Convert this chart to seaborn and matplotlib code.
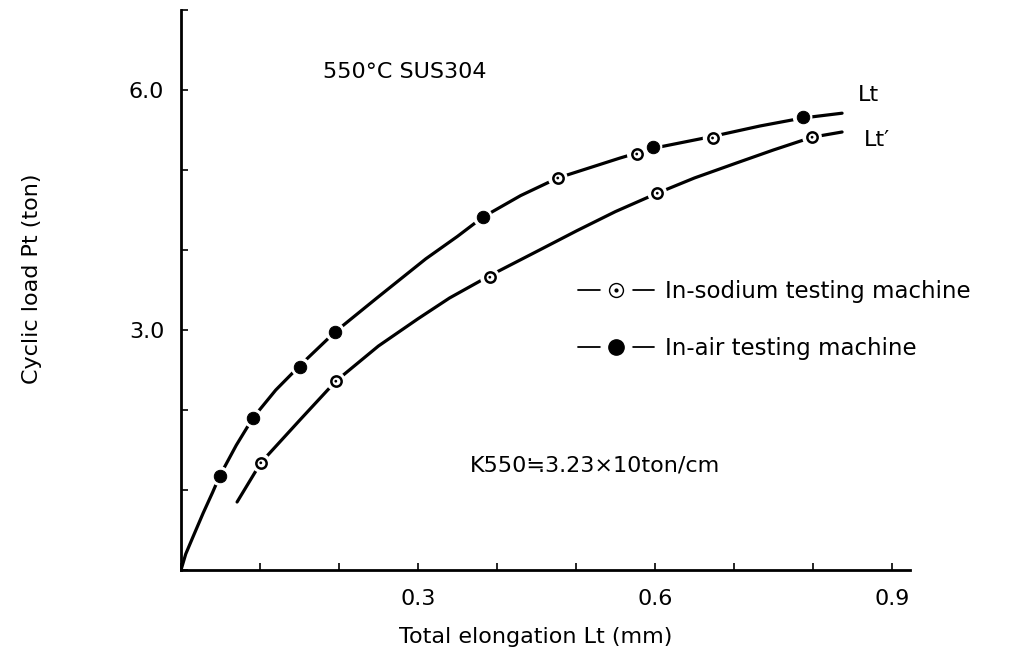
import matplotlib
matplotlib.use("Agg")
import matplotlib.pyplot as plt
import seaborn as sns
import pandas as pd
from matplotlib.lines import Line2D
from matplotlib.legend_handler import HandlerTuple
from matplotlib.ticker import FixedLocator, MultipleLocator

# ---- data ----
# upper curve Lt (traced)
lt_x = [0, 0.006, 0.015, 0.028, 0.040, 0.049, 0.070, 0.091, 0.120, 0.151, 0.195,
        0.248, 0.310, 0.350, 0.382, 0.430, 0.477, 0.556, 0.597, 0.673, 0.733, 0.787, 0.837]
lt_y = [0, 0.20, 0.41, 0.71, 0.97, 1.175, 1.56, 1.90, 2.25, 2.56, 2.975,
        3.40, 3.89, 4.17, 4.41, 4.68, 4.90, 5.15, 5.27, 5.42, 5.55, 5.65, 5.71]
# lower curve Lt' (traced)
ltp_x = [0.071, 0.101, 0.151, 0.196, 0.250, 0.300, 0.340, 0.391, 0.454, 0.501, 0.550,
         0.603, 0.650, 0.704, 0.750, 0.799, 0.837]
ltp_y = [0.85, 1.34, 1.88, 2.36, 2.80, 3.14, 3.40, 3.68, 4.00, 4.24, 4.48,
         4.71, 4.90, 5.09, 5.25, 5.41, 5.475]
# In-air testing machine (filled)
air_x = [0.049, 0.091, 0.151, 0.195, 0.382, 0.597, 0.787]
air_y = [1.175, 1.90, 2.54, 2.975, 4.41, 5.29, 5.66]
# In-sodium testing machine (open, dotted)
sod_x = [0.101, 0.196, 0.391, 0.477, 0.577, 0.603, 0.673, 0.799]
sod_y = [1.34, 2.36, 3.66, 4.90, 5.20, 4.71, 5.40, 5.41]

x_ticks = [0.3, 0.6, 0.9]
x_tick_labels = ["0.3", "0.6", "0.9"]
y_ticks = [3.0, 6.0]
y_tick_labels = ["3.0", "6.0"]

sns.set_theme(style="ticks")
plt.rcParams['font.family'] = ['DejaVu Sans', 'Noto Sans CJK JP']
plt.rcParams['text.color'] = 'black'
plt.rcParams['axes.labelcolor'] = 'black'
plt.rcParams['xtick.color'] = 'black'
plt.rcParams['ytick.color'] = 'black'

fig = plt.figure(figsize=(10.35, 6.6), dpi=100)
ax = fig.add_axes([181/1035, 90/660, 729/1035, 560/660])

lw = 2.3
sns.lineplot(x=lt_x, y=lt_y, sort=False, estimator=None, color='black', lw=lw, ax=ax, zorder=2)
sns.lineplot(x=ltp_x, y=ltp_y, sort=False, estimator=None, color='black', lw=lw, ax=ax, zorder=2)

# white halos to break the lines at markers
halo_x = air_x + sod_x
halo_y = air_y + sod_y
sns.scatterplot(x=halo_x, y=halo_y, s=200, color='white', edgecolor='none', ax=ax, zorder=3)
# filled markers
sns.scatterplot(x=air_x, y=air_y, s=80, color='black', edgecolor='black', ax=ax, zorder=4)
# open dotted markers
sns.scatterplot(x=sod_x, y=sod_y, s=55, color='white', edgecolor='black', linewidth=1.8, ax=ax, zorder=4)
sns.scatterplot(x=sod_x, y=sod_y, s=4, color='black', edgecolor='none', ax=ax, zorder=5)

ax.set_xlim(0, 0.923)
ax.set_ylim(0, 7.0)
ax.xaxis.set_major_locator(FixedLocator(x_ticks))
ax.set_xticklabels(x_tick_labels)
ax.yaxis.set_major_locator(FixedLocator(y_ticks))
ax.set_yticklabels(y_tick_labels)
ax.xaxis.set_minor_locator(MultipleLocator(0.1))
ax.yaxis.set_minor_locator(MultipleLocator(1.0))
ax.tick_params(which='both', direction='in', length=5, width=1.2, color='black')
ax.tick_params(axis='x', which='major', pad=14, labelsize=16, labelcolor='black')
ax.tick_params(axis='y', which='major', pad=12, labelsize=16, labelcolor='black')

for s in ['top', 'right']:
    ax.spines[s].set_visible(False)
for s in ['left', 'bottom']:
    ax.spines[s].set_color('black')
    ax.spines[s].set_linewidth(2.0)

ax.set_xlabel("Total elongation Lt (mm)", fontsize=16, color='black')
ax.set_ylabel("Cyclic load Pt (ton)", fontsize=16, color='black')
ax.xaxis.set_label_coords(0.486, -0.102)
ax.yaxis.set_label_coords(-0.19, 0.52)

ax.text(0.18, 6.22, "550°C SUS304", fontsize=16, va='center', ha='left', color='black')
ax.text(0.857, 5.94, "Lt", fontsize=16, va='center', ha='left', color='black')
ax.text(0.865, 5.38, "Lt′", fontsize=16, va='center', ha='left', color='black')
ax.text(0.366, 1.31, "K550≒3.23×10ton/cm", fontsize=16, va='center', ha='left',
        color='black', family=['DejaVu Sans', 'Noto Sans CJK JP'])

# legend
seg = Line2D([], [], color='black', lw=1.3)
halo = Line2D([], [], marker='o', ms=22, color='white', mec='white', ls='')
h_sod = Line2D([], [], marker='o', ms=10, mfc='white', mec='black', mew=1.0, ls='')
h_dot = Line2D([], [], marker='o', ms=2, color='black', ls='')
h_air = Line2D([], [], marker='o', ms=11, color='black', ls='')
leg = ax.legend(handles=[(seg, halo, h_sod, h_dot), (seg, halo, h_air)],
                labels=["In-sodium testing machine", "In-air testing machine"],
                handler_map={tuple: HandlerTuple(ndivide=1)},
                loc='upper left', bbox_to_anchor=(0.545, 0.518), frameon=False,
                fontsize=16.5, handlelength=3.3, handletextpad=0.5, labelspacing=1.5,
                borderpad=0, borderaxespad=0)
for t in leg.get_texts():
    t.set_color('black')

fig.savefig("out.png", dpi=100)
